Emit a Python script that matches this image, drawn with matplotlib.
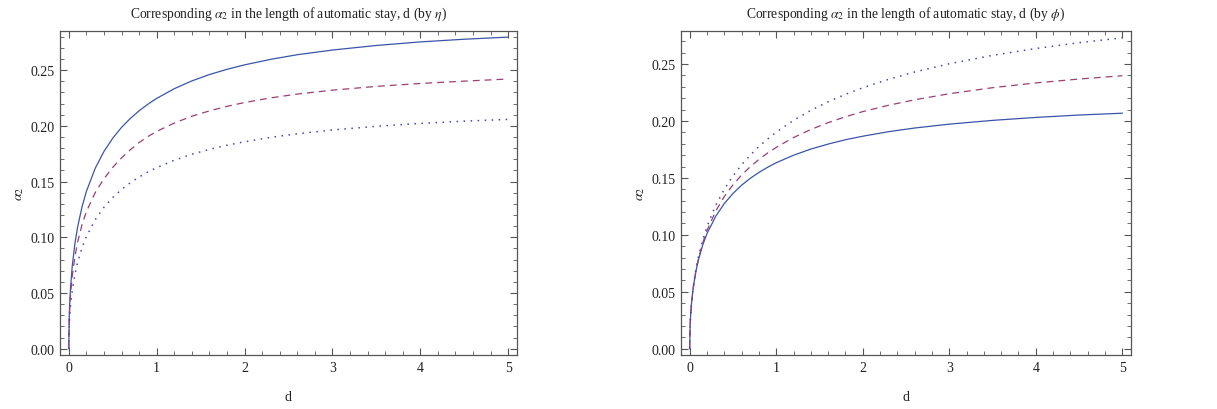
import matplotlib
matplotlib.use("Agg")
import matplotlib.pyplot as plt
from matplotlib.ticker import MultipleLocator, FormatStrFormatter

########################
# values
d = [0, 0.005, 0.01, 0.02, 0.04, 0.07, 0.1, 0.15, 0.2, 0.3, 0.4, 0.5, 0.6, 0.7, 0.8, 0.9,
     1.0, 1.2, 1.4, 1.6, 1.8, 2.0, 2.3, 2.6, 3.0, 3.5, 4.0, 4.5, 5.0]

# left panel (by eta)
eta_solid = [0, 0.0290, 0.0401, 0.0551, 0.0747, 0.0945, 0.1090, 0.1272, 0.1411, 0.1618,
             0.1770, 0.1889, 0.1986, 0.2066, 0.2135, 0.2194, 0.2246, 0.2333, 0.2403, 0.2460,
             0.2507, 0.2547, 0.2597, 0.2638, 0.2680, 0.2721, 0.2753, 0.2777, 0.2796]
eta_dashed = [0, 0.0255, 0.0352, 0.0483, 0.0655, 0.0828, 0.0954, 0.1112, 0.1230, 0.1400,
              0.1525, 0.1627, 0.1712, 0.1785, 0.1850, 0.1904, 0.1950, 0.2025, 0.2086, 0.2134,
              0.2175, 0.2209, 0.2251, 0.2285, 0.2320, 0.2354, 0.2380, 0.2401, 0.2420]
eta_dotted = [0, 0.0204, 0.0283, 0.0389, 0.0528, 0.0669, 0.0773, 0.0905, 0.1006, 0.1157,
              0.1269, 0.1357, 0.1429, 0.1489, 0.1541, 0.1586, 0.1625, 0.1691, 0.1745, 0.1789,
              0.1826, 0.1857, 0.1897, 0.1929, 0.1963, 0.1996, 0.2022, 0.2042, 0.2058]

# right panel (by phi)
phi_solid = [0, 0.0205, 0.0284, 0.0391, 0.0530, 0.0672, 0.0777, 0.0909, 0.1011, 0.1162,
             0.1275, 0.1363, 0.1436, 0.1496, 0.1548, 0.1593, 0.1633, 0.1699, 0.1753, 0.1797,
             0.1835, 0.1866, 0.1906, 0.1938, 0.1972, 0.2005, 0.2031, 0.2052, 0.2068]
phi_dashed = [0, 0.0201, 0.0280, 0.0387, 0.0530, 0.0677, 0.0787, 0.0928, 0.1038, 0.1207,
              0.1336, 0.1439, 0.1525, 0.1598, 0.1662, 0.1718, 0.1768, 0.1854, 0.1925, 0.1985,
              0.2037, 0.2082, 0.2138, 0.2186, 0.2239, 0.2292, 0.2334, 0.2368, 0.2397]
phi_dotted = [0, 0.0201, 0.0281, 0.0390, 0.0536, 0.0689, 0.0804, 0.0954, 0.1073, 0.1258,
              0.1400, 0.1517, 0.1615, 0.1700, 0.1775, 0.1841, 0.1901, 0.2005, 0.2093, 0.2168,
              0.2234, 0.2291, 0.2366, 0.2430, 0.2502, 0.2576, 0.2636, 0.2687, 0.2730]

titles = [r"Corresponding $\alpha_2$ in the length of automatic stay, d (by $\eta$)",
          r"Corresponding $\alpha_2$ in the length of automatic stay, d (by $\phi$)"]
########################

plt.rcParams["font.family"] = ["Liberation Serif", "DejaVu Serif"]
plt.rcParams["mathtext.fontset"] = "stix"

c_solid = "#3a55a8"
c_dashed = "#9b3f74"
c_dotted = "#4646b8"
frame_c = "#555555"
text_c = "#222222"

fig = plt.figure(figsize=(12.17, 4.10), dpi=100)
ax1 = fig.add_axes([0.0493, 0.1317, 0.3755, 0.7903])
ax2 = fig.add_axes([0.5596, 0.1317, 0.3697, 0.7903])

panels = [(ax1, eta_solid, eta_dashed, eta_dotted, (-0.0056, 0.2851)),
          (ax2, phi_solid, phi_dashed, phi_dotted, (-0.0055, 0.2790))]

for i, (ax, s, da, do, ylim) in enumerate(panels):
    ax.plot(d, s, color=c_solid, lw=0.9, ls="-")
    ax.plot(d, da, color=c_dashed, lw=0.9, ls=(0, (5.5, 4.0)))
    ax.plot(d, do, color=c_dotted, lw=1.1, ls=(0, (1, 3.6)))
    ax.set_xlim(-0.1, 5.1)
    ax.set_ylim(*ylim)
    ax.xaxis.set_major_locator(MultipleLocator(1))
    ax.xaxis.set_minor_locator(MultipleLocator(0.2))
    ax.yaxis.set_major_locator(MultipleLocator(0.05))
    ax.yaxis.set_minor_locator(MultipleLocator(0.01))
    ax.yaxis.set_major_formatter(FormatStrFormatter("%.2f"))
    ax.tick_params(which="both", direction="in", top=True, right=True,
                   color=frame_c, labelsize=10, labelcolor=text_c)
    ax.tick_params(which="major", length=5, width=0.8, pad=4)
    ax.tick_params(which="minor", length=2.8, width=0.6)
    for sp in ax.spines.values():
        sp.set_color(frame_c)
        sp.set_linewidth(0.9)
    ax.set_xlabel("d", fontsize=10, color=text_c, labelpad=12)
    ax.set_ylabel(r"$\alpha_2$", fontsize=10, color=text_c, labelpad=3)
    ax.set_title(titles[i], fontsize=9.8, color=text_c, pad=10)

plt.savefig("out.png", dpi=100)
